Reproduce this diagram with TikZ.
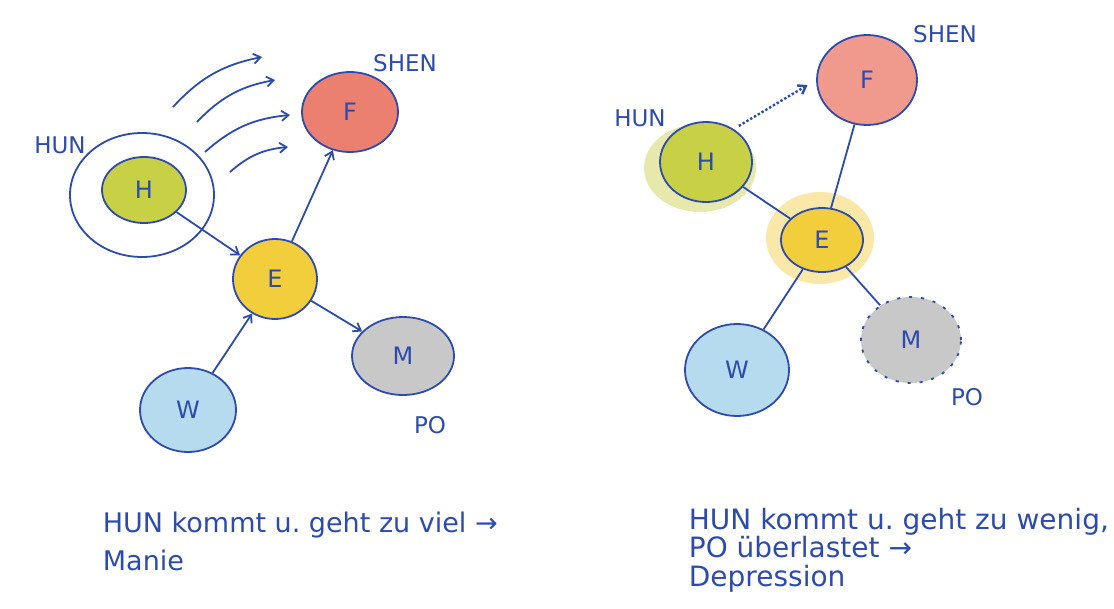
\documentclass[tikz,border=0pt]{standalone}
\usepackage{fontspec}
\newfontfamily\hand{DejaVu Sans}
\usepackage{tikz}
\usetikzlibrary{calc}
\usetikzlibrary{arrows.meta}
\usetikzlibrary{shapes.geometric}
\definecolor{tinte}{RGB}{45,75,175}
\definecolor{hgruen}{RGB}{200,208,70}
\definecolor{frot}{RGB}{236,128,112}
\definecolor{egelb}{RGB}{242,206,60}
\definecolor{mgrau}{RGB}{200,200,200}
\definecolor{wblau}{RGB}{182,218,238}

\begin{document}
\begin{tikzpicture}[line width=1.8pt,x=1pt,y=-1pt,>={Straight Barb[length=7pt,width=10pt]}] %% tikz
	\tikzstyle{seele}=[ellipse,draw=tinte,text=tinte,font=\hand\fontsize{24}{26}\selectfont,inner sep=0pt];
	\tikzstyle{geist}=[text=tinte,font=\hand\fontsize{23}{25}\selectfont];
	\tikzstyle{notiz}=[text=tinte,align=left,anchor=north west,inner sep=0pt];
	\useasboundingbox[fill=white] (0,0) rectangle (1114,608);

	%% left: Manie
	\node[seele,fill=hgruen,minimum width=84,minimum height=66] (H) at (144,190) {H};
	\node[ellipse,draw=tinte,minimum width=144,minimum height=124] (hunfeld) at (142,195) {};
	\node[seele,fill=frot,minimum width=96,minimum height=80] (F) at (350,112) {F};
	\node[seele,fill=egelb,minimum width=84,minimum height=80] (E) at (275,279) {E};
	\node[seele,fill=mgrau,minimum width=102,minimum height=78] (M) at (403,356) {M};
	\node[seele,fill=wblau,minimum width=96,minimum height=84] (W) at (188,410) {W};
	\node[geist] (hun) at (60,145) {HUN};
	\node[geist] (shen) at (405,63) {SHEN};
	\node[geist] (po) at (430,425) {PO};
	\draw[tinte,->] (H) -- (E);
	\draw[tinte,->] (E) -- (F);
	\draw[tinte,->] (W) -- (E);
	\draw[tinte,->] (E) -- (M);
	%% too much coming and going
	\coordinate (a1) at (173,107); \coordinate (b1) at (262,57);
	\coordinate (a2) at (197,122); \coordinate (b2) at (275,80);
	\coordinate (a3) at (205,152); \coordinate (b3) at (290,115);
	\coordinate (a4) at (230,172); \coordinate (b4) at (288,147);
	\draw[tinte,->] (a1) to[bend left=18] (b1);
	\draw[tinte,->] (a2) to[bend left=18] (b2);
	\draw[tinte,->] (a3) to[bend left=18] (b3);
	\draw[tinte,->] (a4) to[bend left=18] (b4);
	\node[notiz,font=\hand\fontsize{27}{38}\selectfont] (text1) at (102,511) {HUN kommt u.\ geht zu viel →\\Manie};

	%% right: Depression
	\fill[hgruen,opacity=.45] (700,168) ellipse [x radius=56, y radius=44];
	\fill[egelb,opacity=.45] (820,238) ellipse [x radius=54, y radius=46];
	\node[seele,fill=hgruen,minimum width=92,minimum height=80] (H2) at (706,162) {H};
	\node[seele,fill=frot!80,minimum width=100,minimum height=90] (F2) at (867,80) {F};
	\node[seele,fill=egelb,minimum width=82,minimum height=64] (E2) at (822,240) {E};
	\node[seele,fill=mgrau,draw=tinte,dash pattern=on 3pt off 9pt,minimum width=100,minimum height=86] (M2) at (911,340) {M};
	\node[seele,fill=wblau,minimum width=104,minimum height=92] (W2) at (737,370) {W};
	\node[geist] (hun2) at (640,118) {HUN};
	\node[geist] (shen2) at (945,34) {SHEN};
	\node[geist] (po2) at (967,397) {PO};
	\draw[tinte] (H2) -- (E2);
	\draw[tinte] (F2) -- (E2);
	\draw[tinte] (E2) -- (W2);
	\draw[tinte] (E2) -- (M2);
	\draw[tinte,dotted,line width=2.4pt,->,shorten <=6pt,shorten >=10pt] (H2.50) -- (F2.west);
	\node[notiz,font=\hand\fontsize{28}{28.5}\selectfont] (text2) at (688,507) {HUN kommt u.\ geht zu wenig,\\PO überlastet →\\Depression};
\end{tikzpicture}
\end{document}
